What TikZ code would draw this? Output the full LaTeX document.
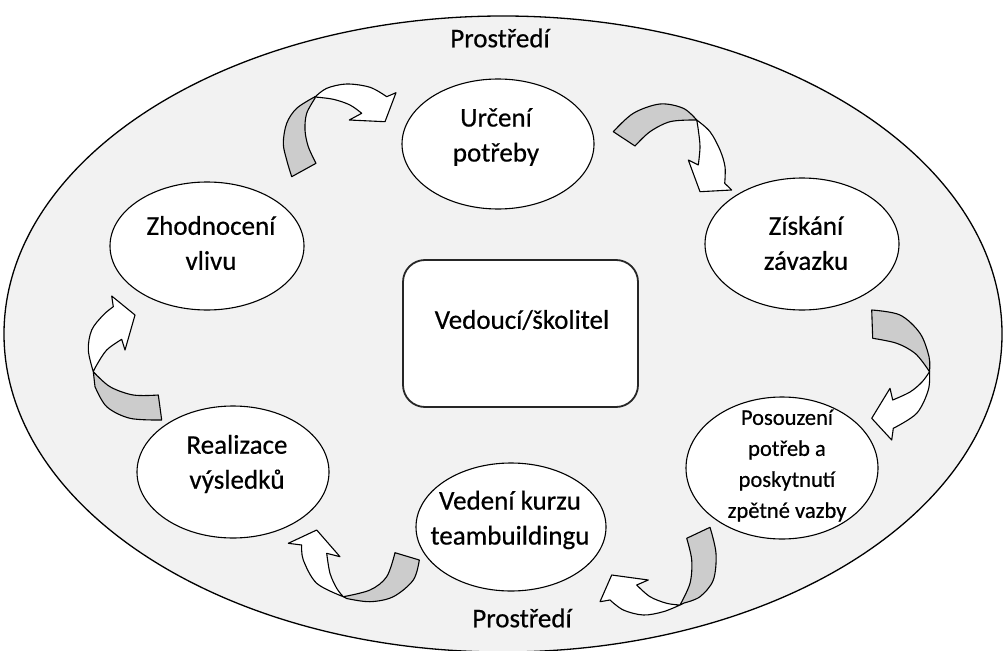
\documentclass[tikz,border=0pt]{standalone}
\usepackage{fontspec}
\setmainfont{Carlito}
\newfontfamily\lblfont{Carlito}[FakeBold=0.5]
\usetikzlibrary{shapes.geometric}
\definecolor{envfill}{HTML}{F2F2F2}
\definecolor{bandgray}{HTML}{CCCCCC}
\begin{document}
\begin{tikzpicture}[x=1pt,y=-1pt,
  bub/.style={ellipse, draw=black, fill=white, line width=1.1pt, inner sep=0pt},
  lbl/.style={align=center, font=\lblfont\fontsize{27}{35}\selectfont, inner sep=0pt},
  backband/.style={fill=bandgray, draw=black, line width=1.1pt, line join=round},
  frontband/.style={fill=white, draw=black, line width=1.1pt, line join=round},
  sm/.style={smooth, tension=0.55}]
\useasboundingbox (0,0) rectangle (1003,650);
\fill[white] (0,0) rectangle (1003,650);

% environment
\filldraw[fill=envfill, draw=black, line width=1.3pt] (503,334) ellipse [x radius=499pt, y radius=318pt];
\node[lbl] (envtop) at (500,38) {Prostředí};
\node[lbl] (envbot) at (522,618) {Prostředí};

% centre box
\node[draw=black!85, line width=1.8pt, fill=white, rounded corners=22pt,
      minimum width=235pt, minimum height=147pt, inner sep=0pt] (lead) at (520.5,333.5) {};
\node[lbl] (lead-t) at (522,320) {Vedoucí/školitel};

% cycle steps
\node[bub, minimum width=192pt, minimum height=130pt] (need) at (498,144) {};
\node[lbl] (need-t) at (496,137) {Určení\\potřeby};

\node[bub, minimum width=194pt, minimum height=132pt] (commit) at (802,244) {};
\node[lbl] (commit-t) at (806,243) {Získání\\závazku};

\node[bub, minimum width=192pt, minimum height=142pt] (assess) at (782,468) {};
\node[lbl, font=\lblfont\fontsize{22.5}{31}\selectfont] (assess-t) at (787,465.5) {Posouzení\\potřeb a\\poskytnutí\\zpětné vazby};

\node[bub, minimum width=190pt, minimum height=128pt] (course) at (511,527) {};
\node[lbl] (course-t) at (510,520) {Vedení kurzu\\teambuildingu};

\node[bub, minimum width=192pt, minimum height=132pt] (result) at (233,472) {};
\node[lbl] (result-t) at (237,464) {Realizace\\výsledků};

\node[bub, minimum width=194pt, minimum height=128pt] (eval) at (207,246) {};
\node[lbl] (eval-t) at (211,243) {Zhodnocení\\vlivu};

% curved arrows: shaded back band, then white front band with head
% evaluation -> need
\filldraw[backband] plot[sm] coordinates {(291.7,176.7) (286.7,160) (283.3,143.3) (286.7,123.3) (296.7,108.3) (315,96.7)}
  -- plot[sm] coordinates {(315,98.3) (306.7,113.3) (305,130) (308.3,146.7) (316,163.3)} -- cycle;
\filldraw[frontband] plot[sm] coordinates {(315,97) (326.7,88.3) (346.7,84) (370,87.3) (386.7,96.7)}
  -- (396,92.7) -- (385,121.7) -- (349.3,120) -- (361.7,113.3)
  -- plot[sm] coordinates {(361.7,113.3) (350,105) (333.3,99.3) (315,97)} -- cycle;

% need -> commitment
\filldraw[backband] plot[sm] coordinates {(613.3,131.7) (633.3,113.3) (660,104) (683.3,108.3) (696.7,120)}
  -- plot[sm] coordinates {(693.3,120) (670,121.7) (650,131.7) (635,146)} -- cycle;
\filldraw[frontband] plot[sm] coordinates {(696.7,120) (710,131.7) (720,150) (725,166.7) (724.7,183.3)}
  -- (731.7,190) -- (700,191.7) -- (688.3,160) -- (698.3,165)
  -- plot[sm] coordinates {(698.3,165) (700,146.7) (698.3,130) (696.7,120)} -- cycle;

% commitment -> assessment
\filldraw[backband] plot[sm] coordinates {(871.7,310) (900,315) (920,333.3) (929,356.7) (929.5,371.7)}
  -- plot[sm] coordinates {(927,368) (915,353.3) (896.7,343.3) (872.7,338.3)} -- cycle;
\filldraw[frontband] plot[sm] coordinates {(929.5,371.7) (928.3,390) (916.7,413.3) (893.3,428.3)}
  -- (891.7,440) -- (871.7,418.3) -- (890,388.3) -- (892.7,400)
  -- plot[sm] coordinates {(892.7,400) (910,392) (922,382) (929.5,371.7)} -- cycle;

% assessment -> course
\filldraw[backband] plot[sm] coordinates {(686.7,538.3) (691.7,560) (690,583.3) (680,605)}
  -- plot[sm] coordinates {(684,603) (700,596.7) (713.3,580) (716,553.3) (710,527.3)} -- cycle;
\filldraw[frontband] plot[sm] coordinates {(680,605) (663.3,611.7) (643.3,615) (623.3,610) (610,600)}
  -- (600,601.7) -- (611.7,575) -- (648.3,580) -- (636.7,585)
  -- plot[sm] coordinates {(636.7,585) (650,596.7) (666.7,603.3) (680,605)} -- cycle;

% course -> results
\filldraw[backband] plot[sm] coordinates {(395,552.7) (386.7,576.7) (370,590) (343.3,596.7)}
  -- plot[sm] coordinates {(346.7,598.5) (370,601.7) (393.3,596.7) (413.3,580) (419.3,560)} -- cycle;
\filldraw[frontband] plot[sm] coordinates {(343.3,596.7) (316.7,583.3) (303.3,560) (301.7,545)}
  -- (288.3,543.3) -- (316.7,530) -- (340,556.7) -- (326.7,553.3)
  -- plot[sm] coordinates {(326.7,553.3) (330,573.3) (336.7,588.3) (343.3,596.7)} -- cycle;

% results -> evaluation
\filldraw[backband] plot[sm] coordinates {(158.3,395) (133.3,395) (110,386.7) (93.3,371.7)}
  -- plot[sm] coordinates {(95,386.7) (106.7,406.7) (130,418.3) (161.7,420)} -- cycle;
\filldraw[frontband] plot[sm] coordinates {(93.3,371.7) (88.3,350) (91.7,330) (103.3,315) (113.3,306.7)}
  -- (111.7,296) -- (135,315) -- (125,350) -- (121.7,339.3)
  -- plot[sm] coordinates {(121.7,339.3) (106.7,350) (96.7,365) (93.3,371.7)} -- cycle;
\end{tikzpicture}
\end{document}
